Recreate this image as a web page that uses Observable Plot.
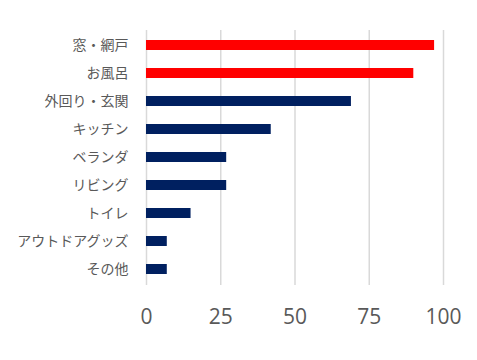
<!DOCTYPE html>
<html>
<head>
<meta charset="utf-8">
<script src="https://cdn.jsdelivr.net/npm/d3@7"></script>
<script src="https://cdn.jsdelivr.net/npm/@observablehq/plot@0.6"></script>
<style>
  html, body { margin: 0; padding: 0; background: #fff; }
  #chart svg { display: block; }
</style>
</head>
<body>
<div id="chart"></div>
<script>
const categories = ["窓・網戸", "お風呂", "外回り・玄関", "キッチン", "ベランダ", "リビング", "トイレ", "アウトドアグッズ", "その他"];
const values = [97, 90, 69, 42, 27, 27, 15, 7, 7];
const highlight = [true, true, false, false, false, false, false, false, false];
const xTicks = [0, 25, 50, 75, 100];

const data = categories.map((c, i) => ({category: c, value: values[i], hl: highlight[i]}));

const chart = Plot.plot({
  width: 477,
  height: 360,
  marginTop: 30,
  marginBottom: 75,
  marginLeft: 146,
  marginRight: 34,
  style: {background: "#fff", color: "#595959"},
  x: {domain: [0, 100], ticks: xTicks},
  y: {domain: categories, paddingInner: 0.63, paddingOuter: 0.315},
  marks: [
    Plot.gridX(xTicks, {stroke: "#d9d9d9", strokeOpacity: 1, strokeWidth: 1.5}),
    Plot.barX(data, {x: "value", y: "category", fill: d => d.hl ? "#ff0000" : "#002060"}),
    Plot.axisX({ticks: xTicks, tickSize: 0, tickPadding: 24, fontSize: 21, fontFamily: "Open Sans, sans-serif", fill: "#595959", label: null}),
    Plot.axisY({tickSize: 0, tickPadding: 18, fontSize: 14, fontFamily: "Noto Sans CJK JP, sans-serif", fill: "#595959", label: null})
  ]
});
document.getElementById("chart").appendChild(chart);
</script>
</body>
</html>
